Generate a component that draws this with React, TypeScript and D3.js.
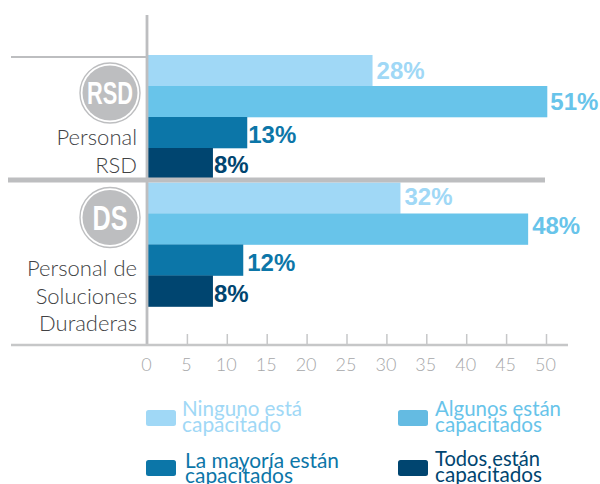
import React from "react";
import * as d3 from "d3";

const groups = ["RSD", "DS"];
const seriesNames = ["Ninguno", "Algunos", "La mayoría", "Todos"];
const barValues = [
  [28.2, 50.1, 12.5, 8.2],
  [31.7, 47.7, 12.0, 8.2],
];
const barLabels = [
  ["28%", "51%", "13%", "8%"],
  ["32%", "48%", "12%", "8%"],
];
const labelBaselines = [
  [79, 110, 143, 173],
  [205, 234, 271, 302],
];
const labelGaps = [
  [4, 3, 1, 1],
  [4, 4, 4, 1],
];
const colors = ["#a0d8f6", "#68c4ea", "#0c76a8", "#004570"];
const ticks = [0, 5, 10, 15, 20, 25, 30, 35, 40, 45, 50];
const groupLabels = [["Personal", "RSD"], ["Personal de", "Soluciones", "Duraderas"]];
const legendItems = [
  { lines: ["Ninguno está", "capacitado"], color: colors[0], text: "#a0d8f6", box: [146, 410], tx: 182, ty: [416, 432], w: [120, 99] },
  { lines: ["Algunos están", "capacitados"], color: "#64bbe2", text: "#68c4ea", box: [398, 410], tx: 435, ty: [416, 432], w: [126, 107] },
  { lines: ["La mayoría están", "capacitados"], color: colors[2], text: "#0c76a8", box: [146, 460], tx: 185, ty: [468, 483], w: [154, 108] },
  { lines: ["Todos están", "capacitados"], color: colors[3], text: "#004570", box: [398, 460], tx: 435, ty: [466, 482], w: [105, 107] },
];

const GREY = "#bdbec0";
const SANS = "'Lato','Noto Sans',sans-serif";
const BOLD = "'Liberation Sans',Arial,sans-serif";

export default function App() {
  const x = d3.scaleLinear().domain([0, 50]).range([147.5, 546.5]);
  const groupY = d3.scaleOrdinal<string, number>().domain(groups).range([55, 182.5]);
  const bandY = d3.scaleBand<string>().domain(seriesNames).range([0, 124]);
  const badgeY = [93, 217.5];
  const badgeFont = [31, 35];
  const badgeW = [46, 35];
  const labelY = [[145, 173], [276, 304, 331]];
  return (
    <svg width={600} height={484} style={{ position: "absolute", left: 0, top: 0, background: "#fff" }}>
      {groups.map((g, gi) =>
        barValues[gi].map((v, i) => {
          const y = groupY(g) + bandY(seriesNames[i])!;
          const b = bandY.bandwidth();
          return (
            <g key={g + i}>
              <rect x={x(0)} y={y} width={x(v) - x(0)} height={b + 0.3} fill={colors[i]} />
              <text x={x(v) + labelGaps[gi][i]} y={labelBaselines[gi][i]} fontFamily={BOLD} fontWeight={700} fontSize={24} fill={colors[i]}>
                {barLabels[gi][i]}
              </text>
            </g>
          );
        })
      )}
      <line x1={147} x2={147} y1={15} y2={346} stroke={GREY} strokeWidth={2.8} />
      <line x1={11} x2={147} y1={57} y2={57} stroke={GREY} strokeWidth={2.2} />
      <line x1={8} x2={545} y1={180} y2={180} stroke={GREY} strokeWidth={5} />
      <line x1={11} x2={568} y1={345} y2={345} stroke="#c6c7c8" strokeWidth={2.5} />
      {ticks.map((t) => (
        <g key={t}>
          {t > 0 && <line x1={x(t)} x2={x(t)} y1={334} y2={345} stroke="#c6c7c8" strokeWidth={1.5} />}
          <text x={x(t) - 1} y={371} textAnchor="middle" fontFamily={SANS} fontWeight={300} fontSize={18} fill="#a6a7a9">{t}</text>
        </g>
      ))}
      {groups.map((g, gi) => (
        <g key={g}>
          <circle cx={110} cy={badgeY[gi]} r={30} fill="#fff" stroke={GREY} strokeWidth={1.4} />
          <circle cx={110} cy={badgeY[gi]} r={27.5} fill={GREY} />
          <text x={110} y={badgeY[gi] + badgeFont[gi] * 0.37} textAnchor="middle" fontFamily="'Liberation Sans Narrow','Liberation Sans',sans-serif" fontWeight={700} fontSize={badgeFont[gi]} fill="#fff" textLength={badgeW[gi]} lengthAdjust="spacingAndGlyphs">{g}</text>
          {groupLabels[gi].map((l, li) => (
            <text key={l} x={137} y={labelY[gi][li]} textAnchor="end" fontFamily={SANS} fontWeight={300} fontSize={22} fill="#414244">{l}</text>
          ))}
        </g>
      ))}
      {legendItems.map((d) => (
        <g key={d.lines[0]}>
          <rect x={d.box[0]} y={d.box[1]} width={30} height={16} rx={2.5} fill={d.color} />
          {d.lines.map((l, i) => (
            <text key={l} x={d.tx} y={d.ty[i]} fontFamily={SANS} fontSize={21} fill={d.text} textLength={d.w[i]} lengthAdjust="spacingAndGlyphs">{l}</text>
          ))}
        </g>
      ))}
    </svg>
  );
}
